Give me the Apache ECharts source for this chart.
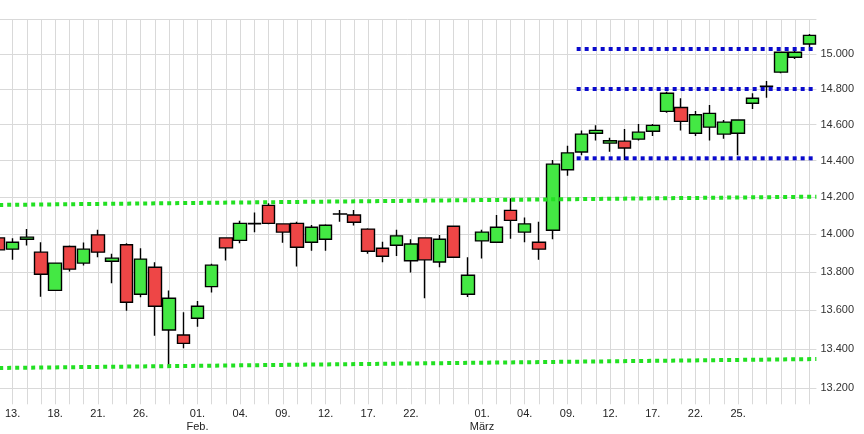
<!DOCTYPE html>
<html>
<head>
<meta charset="utf-8">
<script src="https://cdn.jsdelivr.net/npm/echarts@6/dist/echarts.min.js"></script>
<style>html,body{margin:0;padding:0;background:#fff}#c{width:864px;height:434px}</style>
</head>
<body>
<div id="c"></div>
<script>
const dates = ['2021-01-12','2021-01-13','2021-01-14','2021-01-15','2021-01-18','2021-01-19','2021-01-20','2021-01-21','2021-01-22','2021-01-25','2021-01-26','2021-01-27','2021-01-28','2021-01-29',
'2021-02-01','2021-02-02','2021-02-03','2021-02-04','2021-02-05','2021-02-08','2021-02-09','2021-02-10','2021-02-11','2021-02-12','2021-02-15','2021-02-16','2021-02-17','2021-02-18','2021-02-19','2021-02-22','2021-02-23','2021-02-24','2021-02-25','2021-02-26',
'2021-03-01','2021-03-02','2021-03-03','2021-03-04','2021-03-05','2021-03-08','2021-03-09','2021-03-10','2021-03-11','2021-03-12','2021-03-15','2021-03-16','2021-03-17','2021-03-18','2021-03-19','2021-03-22','2021-03-23','2021-03-24','2021-03-25','2021-03-26','2021-03-29','2021-03-30','2021-03-31','2021-04-01'];
const openV  = [13981,13921,13974,13905,13703,13935,13847,13997,13857,13944,13683,13825,13497,13471,13558,13723,13981,13968,14059,14156,14056,14059,13958,13974,14109,14104,14028,13926,13942,13859,13981,13853,14043,13683,13965,13958,14129,14012,13958,14022,14350,14448,14552,14497,14508,14519,14563,14674,14696,14552,14586,14547,14552,14720,14814,14896,14981,15057];
const closeV = [13917,13958,13985,13788,13847,13815,13921,13905,13873,13641,13868,13620,13662,13428,13620,13836,13928,14059,14057,14059,14012,13931,14038,14049,14110,14065,13910,13883,13992,13948,13864,13974,13878,13783,14012,14038,14075,14056,13921,14381,14443,14547,14568,14510,14470,14558,14596,14776,14618,14655,14663,14614,14626,14748,14816,15010,15010,15107];
const lowV   = [13890,13864,13940,13670,13700,13802,13834,13878,13741,13597,13667,13467,13319,13403,13514,13692,13860,13953,14011,14054,13955,13829,13913,13913,14068,14047,13896,13852,13885,13797,13662,13825,13875,13669,13871,13958,13977,13958,13864,13974,14317,14430,14511,14449,14404,14511,14537,14666,14567,14537,14511,14521,14430,14687,14751,14890,14971,15038];
const highV  = [14000,13979,14028,13958,13850,13940,13956,14024,13896,13953,13926,13852,13702,13589,13648,13843,13985,14073,14117,14167,14060,14068,14050,14054,14131,14131,14033,13960,14024,13974,13984,13997,14048,13878,14024,14104,14194,14091,14068,14404,14483,14567,14596,14527,14576,14603,14603,14785,14748,14676,14710,14626,14630,14776,14846,15013,15019,15115];

const labeledDates = ['2021-01-13','2021-01-18','2021-01-21','2021-01-26','2021-02-01','2021-02-04','2021-02-09','2021-02-12','2021-02-17','2021-02-22','2021-03-01','2021-03-04','2021-03-09','2021-03-12','2021-03-17','2021-03-22','2021-03-25'];
const monthNames = {'2021-02-01':'Feb.','2021-03-01':'März'};
const yGridValues = [13200,13400,13600,13800,14000,14200,14400,14600,14800,15000,15200];
const yLabelValues = [13200,13400,13600,13800,14000,14200,14400,14600,14800,15000];
const yMin = 13119, yMax = 15200;

// trend / level lines: [category index, value]
const greenUpper = [[-0.5,14158],[57.5,14203]];
const greenLower = [[-0.5,13302],[57.5,13348]];
const blueTop = [[40.65,15028],[57.5,15028]];
const blueMid = [[40.65,14800],[57.5,14800]];
const blueLow = [[40.65,14413],[57.5,14413]];

const L = v => Math.log10(v);
const candles = dates.map((d,i)=>[L(openV[i]),L(closeV[i]),L(lowV[i]),L(highV[i])]);
const dayIndex = dates.map((d,i)=>i);
const lineData = arr => arr.map(p=>[p[0], L(p[1])]);
const FONT = 'Liberation Sans, Arial, sans-serif';
const labelSet = new Set(labeledDates);
const GRID = '#d9d9d9';

function dotted(name, arr, color){
  return {
    name, type:'line', xAxisIndex:1, yAxisIndex:0, data: lineData(arr),
    symbol:'none', silent:true, z:5, animation:false,
    lineStyle:{color, width:4, type:[4,4], cap:'butt'}
  };
}

const chart = echarts.init(document.getElementById('c'), null, {renderer:'canvas'});
chart.setOption({
  animation:false,
  backgroundColor:'#ffffff',
  grid:{left:-8.8, right:47.6, top:19.3, bottom:29.7, containLabel:false, outerBoundsMode:'none'},
  xAxis:[{
    type:'category', data:dates, boundaryGap:true,
    axisLine:{show:false}, axisTick:{show:false},
    splitLine:{show:false},
    axisLabel:{
      interval:(idx, val)=>labelSet.has(val),
      formatter:(val)=>{ const day = val.slice(8,10)+'.'; return monthNames[val] ? day+'\n'+monthNames[val] : day; },
      fontSize:11, lineHeight:13, color:'#222', fontFamily:FONT, margin:3
    }
  },{
    type:'value', min:-0.5, max:57.5, position:'bottom',
    axisLine:{show:false}, axisLabel:{show:false},
    axisTick:{show:false, customValues:dayIndex},
    splitLine:{show:true, lineStyle:{color:GRID, width:1}}
  }],
  yAxis:{
    type:'value', position:'right', min:L(yMin), max:L(yMax), scale:true,
    axisLine:{show:false},
    axisTick:{show:false, customValues:yGridValues.map(L)},
    splitLine:{show:true, lineStyle:{color:GRID, width:1}},
    axisLabel:{
      customValues:yLabelValues.map(L),
      formatter:(v)=>(Math.round(Math.pow(10,v))/1000).toFixed(3),
      fontSize:11, color:'#333', fontFamily:FONT, margin:4
    }
  },
  series:[
    {
      type:'candlestick', data:candles, barWidth:13, z:3,
      itemStyle:{color:'#44e844', color0:'#ee4646', borderColor:'#000', borderColor0:'#000', borderColorDoji:'#000', borderWidth:1.4}
    },
    dotted('g1', greenUpper, '#22e022'),
    dotted('g2', greenLower, '#22e022'),
    dotted('b1', blueTop, '#0a0acc'),
    dotted('b2', blueMid, '#0a0acc'),
    dotted('b3', blueLow, '#0a0acc')
  ]
});
</script>
</body>
</html>
